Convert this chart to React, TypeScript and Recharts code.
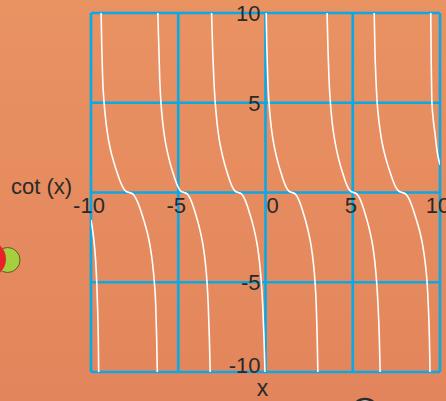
import React from 'react';
import { LineChart, Line, XAxis, YAxis, ReferenceLine, ReferenceDot } from 'recharts';

// Branches of cot(x) (x values and y values)
const segA_x = [-10, -9.95, -9.9, -9.82, -9.74, -9.67, -9.62, -9.58, -9.56];
const segA_y = [-1.53, -1.8, -2.15, -2.8, -3.7, -5.0, -6.5, -8.2, -10];

const segB_x = [-9.42, -9.38, -9.33, -9.25, -9.14, -9.01, -8.85, -8.68, -8.52, -8.36, -8.19, -8.01, -7.81, -7.61, -7.43, -7.26, -7.1, -6.94, -6.77, -6.61, -6.48, -6.37, -6.29, -6.24, -6.2];
const segB_y = [10, 8, 6.3, 5.0, 3.9, 3.0, 2.25, 1.65, 1.15, 0.7, 0.33, 0.08, 0, -0.08, -0.33, -0.7, -1.15, -1.65, -2.25, -3.0, -3.9, -5.0, -6.3, -8, -10];

const segC_x = [-6.17, -6.11, -6.06, -5.99, -5.89, -5.77, -5.62, -5.47, -5.32, -5.17, -5.02, -4.85, -4.67, -4.49, -4.32, -4.17, -4.02, -3.87, -3.72, -3.57, -3.45, -3.35, -3.28, -3.22, -3.17];
const segC_y = [10, 8, 6.3, 5.0, 3.9, 3.0, 2.25, 1.65, 1.15, 0.7, 0.33, 0.08, 0, -0.08, -0.33, -0.7, -1.15, -1.65, -2.25, -3.0, -3.9, -5.0, -6.3, -8, -10];

const segD_x = [-3.09, -3.03, -2.96, -2.88, -2.78, -2.66, -2.51, -2.36, -2.21, -2.06, -1.91, -1.74, -1.56, -1.38, -1.21, -1.06, -0.91, -0.76, -0.61, -0.46, -0.34, -0.24, -0.16, -0.09, -0.03];
const segD_y = [10, 8, 6.3, 5.0, 3.9, 3.0, 2.25, 1.65, 1.15, 0.7, 0.33, 0.08, 0, -0.08, -0.33, -0.7, -1.15, -1.65, -2.25, -3.0, -3.9, -5.0, -6.3, -8, -10];

const segE_x = [0.04, 0.08, 0.13, 0.2, 0.3, 0.42, 0.57, 0.72, 0.87, 1.02, 1.17, 1.34, 1.52, 1.7, 1.87, 2.02, 2.17, 2.32, 2.47, 2.62, 2.74, 2.84, 2.91, 2.96, 3.0];
const segE_y = [10, 8, 6.3, 5.0, 3.9, 3.0, 2.25, 1.65, 1.15, 0.7, 0.33, 0.08, 0, -0.08, -0.33, -0.7, -1.15, -1.65, -2.25, -3.0, -3.9, -5.0, -6.3, -8, -10];

const segF_x = [3.53, 3.58, 3.64, 3.72, 3.82, 3.95, 4.1, 4.25, 4.4, 4.55, 4.7, 4.87, 5.05, 5.23, 5.4, 5.55, 5.7, 5.85, 6.0, 6.15, 6.27, 6.37, 6.45, 6.52, 6.57];
const segF_y = [10, 8, 6.3, 5.0, 3.9, 3.0, 2.25, 1.65, 1.15, 0.7, 0.33, 0.08, 0, -0.08, -0.33, -0.7, -1.15, -1.65, -2.25, -3.0, -3.9, -5.0, -6.3, -8, -10];

const segG_x = [6.23, 6.27, 6.33, 6.4, 6.51, 6.64, 6.8, 6.97, 7.13, 7.29, 7.45, 7.64, 7.83, 8.02, 8.21, 8.37, 8.53, 8.69, 8.86, 9.02, 9.15, 9.26, 9.33, 9.39, 9.43];
const segG_y = [10, 8, 6.3, 5.0, 3.9, 3.0, 2.25, 1.65, 1.15, 0.7, 0.33, 0.08, 0, -0.08, -0.33, -0.7, -1.15, -1.65, -2.25, -3.0, -3.9, -5.0, -6.3, -8, -10];

const segH_x = [9.47, 9.5, 9.53, 9.6, 9.71, 9.85, 10];
const segH_y = [10, 7, 5.15, 4.2, 3.3, 2.2, 1.55];

const xTicks = [-10, -5, 0, 5, 10];
const yTicks = [-10, -5, 0, 5, 10];
const xTickLabels = ['-10', '-5', '0', '5', '10'];
const yLabelValues = [10, 5, -5, -10];
const yTickLabels = ['10', '5', '-5', '-10'];

const yTitle = 'cot (x)';
const xTitle = 'x';

const segments = [
  [segA_x, segA_y],
  [segB_x, segB_y],
  [segC_x, segC_y],
  [segD_x, segD_y],
  [segE_x, segE_y],
  [segF_x, segF_y],
  [segG_x, segG_y],
  [segH_x, segH_y],
].map(([xs, ys]) => xs.map((x, i) => ({ x, y: ys[i] })));

const FONT = '"Liberation Sans", Arial, sans-serif';
const TEXT = '#2a2a2a';
const GRID = '#0ca8e6';

export default function App() {
  return (
    <div
      style={{
        position: 'absolute',
        left: 0,
        top: 0,
        width: 446,
        height: 401,
        overflow: 'hidden',
        background: 'linear-gradient(180deg, #e99262 0%, #e3855c 100%)',
        fontFamily: FONT,
      }}
    >
      <LineChart width={446} height={401} margin={{ top: 13, right: 6, bottom: 29, left: 91 }}>
        <XAxis
          dataKey="x"
          type="number"
          domain={[-10, 10]}
          ticks={xTicks}
          allowDataOverflow
          height={0}
          tick={false}
          axisLine={false}
          tickLine={false}
        />
        <YAxis
          type="number"
          domain={[-10, 10]}
          ticks={yTicks}
          allowDataOverflow
          width={0}
          tick={false}
          axisLine={false}
          tickLine={false}
        />
        {xTicks.map((t) => (
          <ReferenceLine key={'gx' + t} x={t} stroke={GRID} strokeWidth={2.7} strokeOpacity={1} ifOverflow="visible" />
        ))}
        {yTicks.map((t) => (
          <ReferenceLine key={'gy' + t} y={t} stroke={GRID} strokeWidth={2.7} strokeOpacity={1} ifOverflow="visible" />
        ))}
        {segments.map((seg, i) => (
          <Line
            key={'s' + i}
            data={seg}
            dataKey="y"
            type="monotone"
            stroke="#ffffff"
            strokeWidth={1.6}
            dot={false}
            activeDot={false}
            isAnimationActive={false}
          />
        ))}
        {xTicks.map((t, i) => (
          <ReferenceDot
            key={'xl' + i}
            x={t}
            y={0}
            r={0}
            fill="none"
            stroke="none"
            ifOverflow="visible"
            label={(p: any) => {
              const vb = p.viewBox || {};
              const isZero = t === 0;
              return (
                <text
                  x={vb.x + (isZero ? 1 : -2)}
                  y={vb.y + 20.5}
                  textAnchor={isZero ? 'start' : 'middle'}
                  fontSize={22}
                  fontFamily={FONT}
                  fill={TEXT}
                >
                  {xTickLabels[i]}
                </text>
              );
            }}
          />
        ))}
        {yLabelValues.map((t, i) => (
          <ReferenceDot
            key={'yl' + i}
            x={0}
            y={t}
            r={0}
            fill="none"
            stroke="none"
            ifOverflow="visible"
            label={(p: any) => {
              const vb = p.viewBox || {};
              const isMin = t === -10;
              return (
                <text
                  x={vb.x - 5}
                  y={vb.y + (isMin ? 1 : 8)}
                  textAnchor="end"
                  fontSize={22}
                  fontFamily={FONT}
                  fill={TEXT}
                >
                  {yTickLabels[i]}
                </text>
              );
            }}
          />
        ))}
      </LineChart>
      <svg
        width={446}
        height={401}
        style={{ position: 'absolute', left: 0, top: 0, pointerEvents: 'none' }}
      >
        <text x={11} y={194} fontSize={22} fontFamily={FONT} fill={TEXT}>
          {yTitle}
        </text>
        <text x={262.5} y={396} textAnchor="middle" fontSize={23} fontFamily={FONT} fill={TEXT}>
          {xTitle}
        </text>
        <circle cx={7.5} cy={260} r={12.5} fill="#a6cf3e" stroke="#5d5a2c" strokeWidth={1} />
        <circle cx={-12} cy={259} r={18} fill="#e8212b" />
        <circle cx={365} cy={412} r={13} fill="#f4e6de" stroke="#2b2b2b" strokeWidth={2.5} />
      </svg>
    </div>
  );
}
